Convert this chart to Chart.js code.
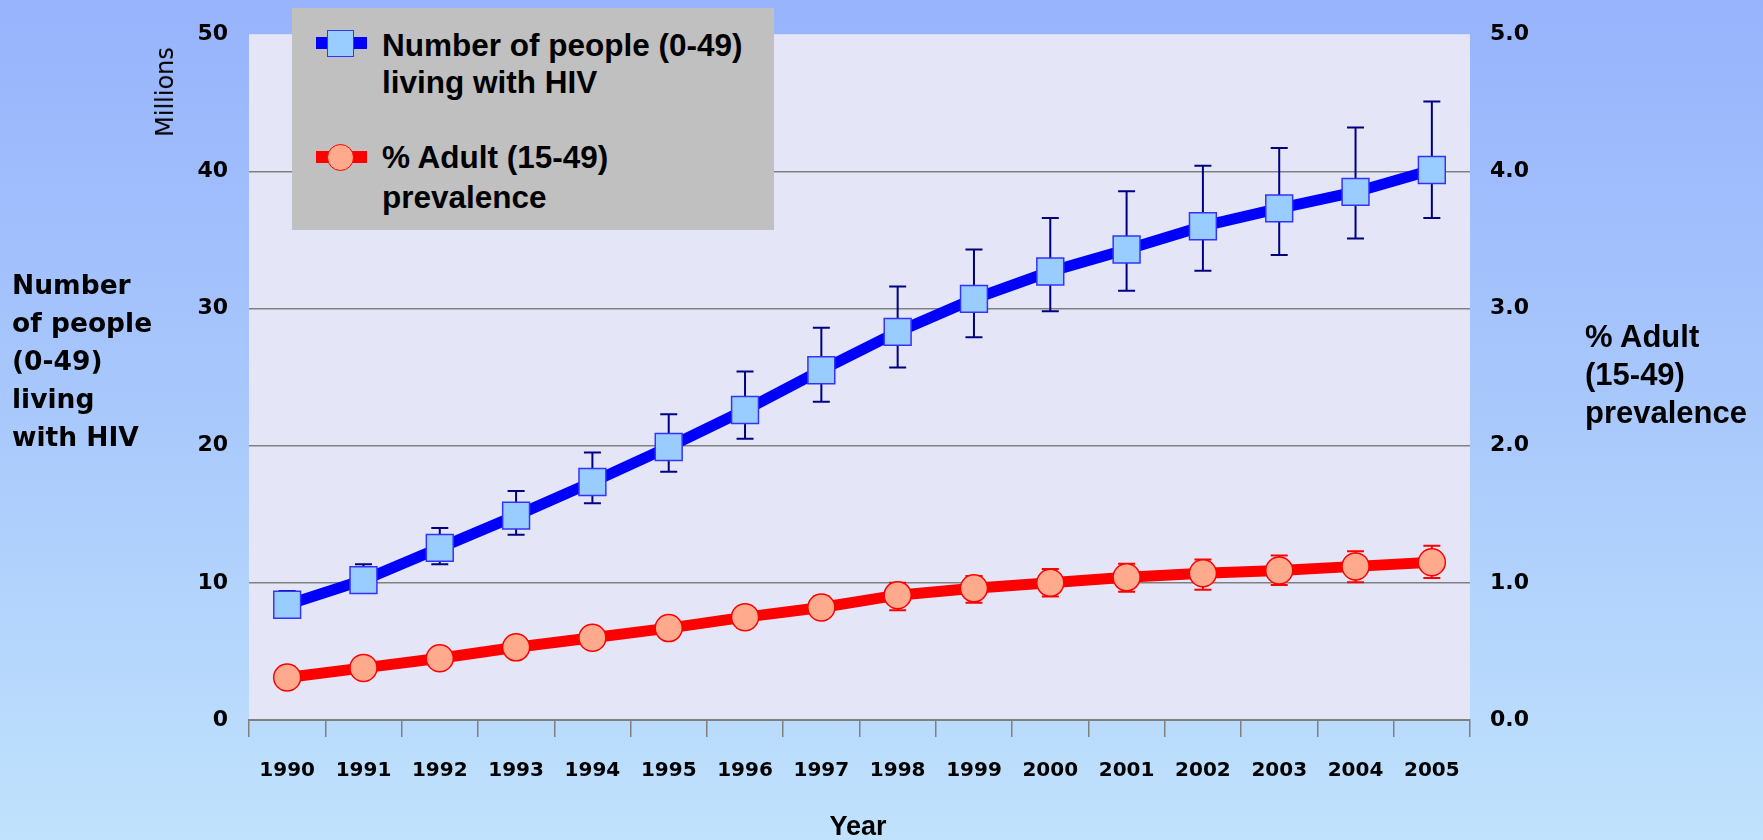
<!DOCTYPE html>
<html><head><meta charset="utf-8">
<script src="https://cdn.jsdelivr.net/npm/chart.js@4.4.0/dist/chart.umd.min.js"></script>
<style>
html,body{margin:0;padding:0;}
body{width:1763px;height:840px;overflow:hidden;position:relative;background:linear-gradient(to bottom,#97b3fc 0%,#a9c9fc 50%,#c0e2fc 100%);}
#wrap{position:absolute;left:0;top:0;width:1763px;height:840px;}
.t{position:absolute;color:#000;font-weight:bold;white-space:nowrap;}
#legend{position:absolute;left:292px;top:8px;width:482px;height:222px;background:#c0c0c0;}
#legend div{position:absolute;box-sizing:border-box;}
.lt{font-family:'Liberation Sans',Arial,sans-serif;font-weight:bold;font-size:31.5px;color:#000;white-space:nowrap;}
</style></head><body>
<div id="wrap"><canvas id="c" width="1763" height="840"></canvas></div>
<div class="t" style="left:12px;top:266px;font-family:'DejaVu Sans',sans-serif;font-size:26.5px;line-height:38px;">Number<br>of people<br>(0-49)<br>living<br>with HIV</div>
<div class="t" style="left:1585px;top:318px;font-family:'Liberation Sans',Arial,sans-serif;font-size:31px;line-height:38px;">% Adult<br>(15-49)<br>prevalence</div>
<div class="t" style="left:165px;top:92px;font-family:'DejaVu Sans',sans-serif;font-weight:normal;font-size:24px;transform:translate(-50%,-50%) rotate(-90deg);">Millions</div>
<div class="t" style="left:858px;top:826px;font-family:'Liberation Sans',Arial,sans-serif;font-size:27px;transform:translate(-50%,-50%);">Year</div>
<div id="legend">
  <div style="left:24px;top:29px;width:51px;height:12px;background:#0000ff;"></div>
  <div style="left:34.5px;top:21.5px;width:27px;height:27px;background:#99ccff;border:1.5px solid #3333ff;"></div>
  <div class="lt" style="left:90px;top:18.5px;line-height:37px;">Number of people (0-49)<br>living with HIV</div>
  <div style="left:24px;top:143px;width:51px;height:12px;background:#ff0000;"></div>
  <div style="left:34.5px;top:135.5px;width:27px;height:27px;background:#ffaa8c;border:1.5px solid #ff0000;border-radius:50%;"></div>
  <div class="lt" style="left:90px;top:129px;line-height:40px;">% Adult (15-49)<br>prevalence</div>
</div>
<script>
const years = ['1990','1991','1992','1993','1994','1995','1996','1997','1998','1999','2000','2001','2002','2003','2004','2005'];
const hivMillions = [8.4, 10.2, 12.55, 14.9, 17.35, 19.9, 22.6, 25.5, 28.3, 30.7, 32.7, 34.3, 36.0, 37.3, 38.5, 40.1];
const hivLow      = [7.6, 9.4, 11.35, 13.5, 15.8, 18.1, 20.5, 23.2, 25.7, 27.9, 29.8, 31.3, 32.75, 33.9, 35.1, 36.6];
const hivHigh     = [9.4, 11.35, 14.0, 16.7, 19.5, 22.3, 25.4, 28.6, 31.6, 34.3, 36.6, 38.55, 40.4, 41.7, 43.2, 45.1];
const prevalencePct = [0.31, 0.38, 0.45, 0.53, 0.60, 0.67, 0.75, 0.82, 0.91, 0.96, 1.0, 1.04, 1.07, 1.09, 1.12, 1.15];
const prevLow       = [0.28, 0.35, 0.42, 0.50, 0.56, 0.63, 0.67, 0.75, 0.80, 0.855, 0.90, 0.935, 0.95, 0.985, 1.005, 1.035];
const prevHigh      = [0.34, 0.41, 0.48, 0.56, 0.64, 0.71, 0.82, 0.90, 1.0, 1.05, 1.10, 1.14, 1.17, 1.20, 1.23, 1.27];
const leftTicks = [0, 10, 20, 30, 40, 50];
const rightTicks = ['0.0', '1.0', '2.0', '3.0', '4.0', '5.0'];

const plotBg = {
  id: 'plotBg',
  beforeDraw(chart) {
    const {ctx, chartArea: a} = chart;
    ctx.save();
    ctx.fillStyle = '#e4e6f8';
    ctx.fillRect(a.left, a.top, a.right - a.left, a.bottom - a.top);
    ctx.restore();
  }
};
const errorBars = {
  id: 'errorBars',
  beforeDatasetsDraw(chart) {
    const ctx = chart.ctx;
    chart.data.datasets.forEach((ds, i) => {
      const meta = chart.getDatasetMeta(i);
      const ys = chart.scales[ds.yAxisID];
      ctx.save();
      ctx.strokeStyle = ds.errColor;
      ctx.lineWidth = 2;
      meta.data.forEach((pt, j) => {
        const x = pt.x;
        const y1 = ys.getPixelForValue(ds.errLow[j]);
        const y2 = ys.getPixelForValue(ds.errHigh[j]);
        ctx.beginPath();
        ctx.moveTo(x, y1); ctx.lineTo(x, y2);
        ctx.moveTo(x - 8.5, y1); ctx.lineTo(x + 8.5, y1);
        ctx.moveTo(x - 8.5, y2); ctx.lineTo(x + 8.5, y2);
        ctx.stroke();
      });
      ctx.restore();
    });
  }
};

new Chart(document.getElementById('c'), {
  type: 'line',
  data: {
    labels: years,
    datasets: [
      {
        label: 'Number of people (0-49) living with HIV',
        data: hivMillions, errLow: hivLow, errHigh: hivHigh, errColor: '#000080',
        yAxisID: 'y', borderColor: '#0000ff', borderWidth: 11,
        pointStyle: 'rect', pointRadius: 19, pointHoverRadius: 19,
        pointBackgroundColor: '#99ccff', pointBorderColor: '#3333ff', pointBorderWidth: 1.5,
        tension: 0, borderJoinStyle: 'round'
      },
      {
        label: '% Adult (15-49) prevalence',
        data: prevalencePct, errLow: prevLow, errHigh: prevHigh, errColor: '#ff0000',
        yAxisID: 'y2', borderColor: '#ff0000', borderWidth: 11,
        pointStyle: 'circle', pointRadius: 13.5, pointHoverRadius: 13.5,
        pointBackgroundColor: '#ffaa8c', pointBorderColor: '#ff0000', pointBorderWidth: 1.5,
        tension: 0, borderJoinStyle: 'round'
      }
    ]
  },
  options: {
    responsive: false, animation: false, devicePixelRatio: 1,
    layout: { padding: { top: 33, bottom: 0, left: 0, right: 0 } },
    plugins: { legend: { display: false }, tooltip: { enabled: false } },
    scales: {
      x: {
        type: 'category', offset: true,
        grid: { offset: true, drawOnChartArea: false, drawTicks: true, tickLength: 17, color: '#808080', lineWidth: 1.5 },
        border: { display: true, color: '#808080', width: 2 },
        ticks: { padding: 22, color: '#000', font: { family: 'DejaVu Sans', weight: 'bold', size: 20 }, maxRotation: 0, autoSkip: false },
        afterFit(s) { s.height = 120; }
      },
      y: {
        position: 'left', min: 0, max: 50,
        afterBuildTicks(s) { s.ticks = leftTicks.map(v => ({ value: v })); },
        grid: { drawTicks: false, color: (c) => (c.tick && c.tick.value === 50) ? 'rgba(0,0,0,0)' : '#808080', lineWidth: 1.5 },
        border: { display: false },
        ticks: { padding: 21, color: '#000', font: { family: 'DejaVu Sans', weight: 'bold', size: 22 } },
        afterFit(s) { s.width = 249; }
      },
      y2: {
        position: 'right', min: 0, max: 5,
        afterBuildTicks(s) { s.ticks = rightTicks.map(v => ({ value: parseFloat(v) })); },
        grid: { display: false, drawTicks: false },
        border: { display: false },
        ticks: { padding: 20, color: '#000', font: { family: 'DejaVu Sans', weight: 'bold', size: 22 },
                 callback: (v, i) => rightTicks[i] },
        afterFit(s) { s.width = 293; }
      }
    }
  },
  plugins: [plotBg, errorBars]
});
</script>
</body></html>
